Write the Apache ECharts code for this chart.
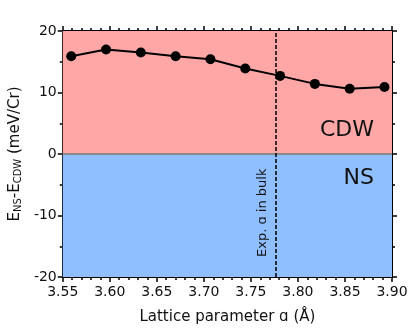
<!DOCTYPE html>
<html>
<head>
<meta charset="utf-8">
<script src="https://cdn.jsdelivr.net/npm/echarts@6/dist/echarts.min.js"></script>
<style>
  html, body {margin: 0; padding: 0; background: #fff;}
  #chart {width: 415px; height: 333px;}
</style>
</head>
<body>
<div id="chart"></div>
<script>
// lattice parameter (Å) and energy difference E_NS - E_CDW (meV/Cr)
var latticeA = [3.559, 3.596, 3.633, 3.670, 3.707, 3.744, 3.781, 3.818, 3.855, 3.892]
var energyDiff = [15.9, 17.0, 16.5, 15.9, 15.4, 13.9, 12.7, 11.4, 10.6, 10.9]
var expBulkA = 3.776
var xTicks = [3.55, 3.60, 3.65, 3.70, 3.75, 3.80, 3.85, 3.90]
var yTicks = [-20, -10, 0, 10, 20]

var font = 'DejaVu Sans'
var chart = echarts.init(document.getElementById('chart'))

var axisLine = {show: true, onZero: false, lineStyle: {color: '#000', width: 2}}
var axisTick = {show: true, inside: false, length: 5, lineStyle: {color: '#000', width: 1.5}}
function minor(n) {
  return {show: true, splitNumber: n, length: 3, lineStyle: {color: '#000', width: 1.5}}
}

var option = {
  animation: false,
  grid: {left: 62, right: 23, top: 31, bottom: 56},
  xAxis: [
    {
      type: 'value', position: 'bottom',
      min: xTicks[0], max: xTicks[xTicks.length - 1], interval: 0.05,
      axisLine: axisLine, axisTick: axisTick, minorTick: minor(5), splitLine: {show: false},
      axisLabel: {
        color: '#111', fontFamily: font, fontSize: 14, margin: 8,
        formatter: function (v) { return v.toFixed(2) }
      },
      name: 'Lattice parameter ɑ (Å)', nameLocation: 'middle', nameGap: 33,
      nameTextStyle: {color: '#111', fontFamily: font, fontSize: 15}
    },
    {
      type: 'value', position: 'top',
      min: xTicks[0], max: xTicks[xTicks.length - 1], interval: 0.05,
      axisLine: axisLine, axisTick: axisTick, minorTick: minor(5), splitLine: {show: false},
      axisLabel: {show: false}
    }
  ],
  yAxis: [
    {
      type: 'value', position: 'left',
      min: yTicks[0], max: yTicks[yTicks.length - 1], interval: 10,
      axisLine: axisLine, axisTick: axisTick, minorTick: minor(2), splitLine: {show: false},
      axisLabel: {color: '#111', fontFamily: font, fontSize: 14, margin: 6},
      name: '{n|E}{s|NS}{n|-E}{s|CDW}{n| (meV/Cr)}', nameLocation: 'middle', nameGap: 38,
      nameTextStyle: {
        color: '#111', fontFamily: font,
        rich: {
          n: {fontFamily: font, fontSize: 15, color: '#111'},
          s: {fontFamily: font, fontSize: 10, color: '#111', verticalAlign: 'bottom', padding: [4, 0, 0, 0]}
        }
      }
    },
    {
      type: 'value', position: 'right',
      min: yTicks[0], max: yTicks[yTicks.length - 1], interval: 10,
      axisLine: axisLine, axisTick: axisTick, minorTick: minor(2), splitLine: {show: false},
      axisLabel: {show: false}
    }
  ],
  series: [
    {
      type: 'line',
      data: latticeA.map(function (a, i) { return [a, energyDiff[i]] }),
      symbol: 'circle', symbolSize: 10,
      itemStyle: {color: '#000'},
      lineStyle: {color: '#000', width: 2},
      z: 5,
      markArea: {
        silent: true,
        label: {show: true, fontFamily: font, fontSize: 22, color: '#111'},
        data: [
          [{name: 'CDW', yAxis: 0, itemStyle: {color: '#ffa7a7'},
            label: {position: 'insideBottomRight', offset: [-13, -8]}},
           {yAxis: 20}],
          [{name: 'NS', yAxis: -20, itemStyle: {color: '#8fbfff'},
            label: {position: 'insideTopRight', offset: [-13, 8]}},
           {yAxis: 0}]
        ]
      },
      markLine: {
        silent: true, symbol: 'none', animation: false, precision: 3,
        data: [
          {yAxis: 0, lineStyle: {color: '#8a8a8a', type: 'solid', width: 2}, label: {show: false}},
          {xAxis: expBulkA, lineStyle: {color: '#000', type: [4, 2], width: 1.5},
            label: {show: true, position: 'insideStartTop', distance: [20, 6], formatter: 'Exp. ɑ in bulk',
              fontFamily: font, fontSize: 13, color: '#111'}}
        ]
      }
    }
  ]
}

chart.setOption(option)
</script>
</body>
</html>
